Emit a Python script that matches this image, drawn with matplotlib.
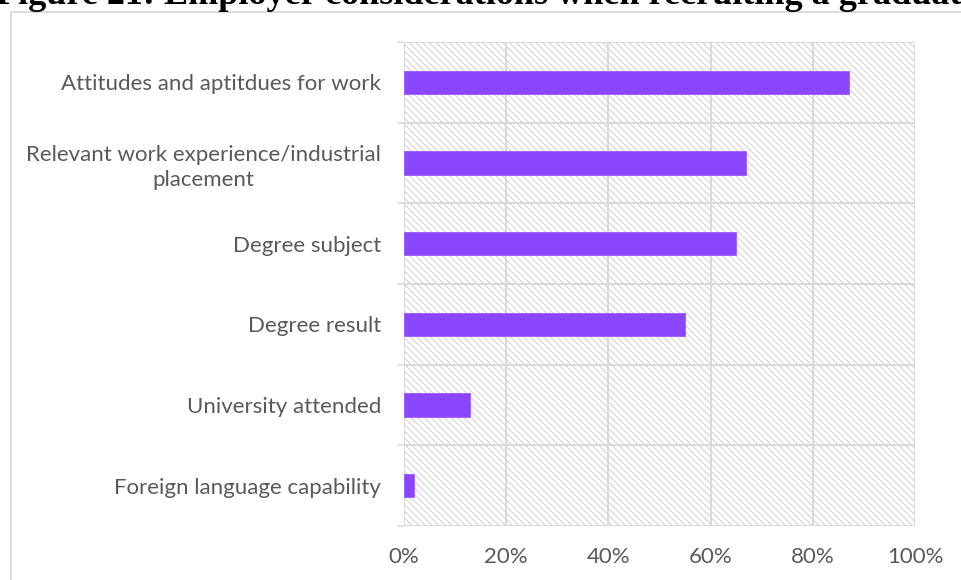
import matplotlib
matplotlib.use("Agg")
import matplotlib.pyplot as plt
from matplotlib.patches import Rectangle
from matplotlib.ticker import PercentFormatter

# survey answers, share of employers (top to bottom)
considerations = [
    "Attitudes and aptitdues for work",
    "Relevant work experience/industrial\nplacement",
    "Degree subject",
    "Degree result",
    "University attended",
    "Foreign language capability",
]
shares = [0.87, 0.67, 0.65, 0.55, 0.13, 0.02]
x_ticks = [0, 0.2, 0.4, 0.6, 0.8, 1.0]

title = "Figure 21: Employer considerations when recruiting a graduate"

bar_color = "#8B47FF"
grid_color = "#d9d9d9"
hatch_color = "#d4d4d4"
text_color = "#595959"

plt.rcParams["font.family"] = ["Lato", "DejaVu Sans"]
plt.rcParams["hatch.linewidth"] = 0.8

fig = plt.figure(figsize=(9.61, 5.80), dpi=100)
fig.patch.set_facecolor("white")

# outer chart frame (runs off the right and bottom edges)
fig.add_artist(Rectangle((11 / 961, -0.05), 1.0, 1 - 12 / 580 + 0.05,
                         transform=fig.transFigure, fill=False,
                         edgecolor=grid_color, linewidth=1.3))

# document caption above the chart, only its lower part is visible
fig.text(-4 / 961, 1 - 4 / 580, title, family="Liberation Serif",
         weight="bold", fontsize=26, va="baseline", ha="left", color="black")

ax = fig.add_axes([404 / 961, 1 - 526 / 580, 511 / 961, 484 / 580])
ax.set_facecolor("white")

# hatched plot area
ax.add_patch(Rectangle((0, 0), 1, 1, transform=ax.transAxes, fill=False,
                       hatch="\\\\\\\\\\", edgecolor=hatch_color,
                       linewidth=0, zorder=0))

pos = list(range(len(considerations)))
ax.barh(pos, shares, height=0.29, color=bar_color, edgecolor="#9a5cff",
        linewidth=0.6, zorder=3)

ax.set_xlim(0, 1)
ax.set_ylim(len(considerations) - 0.5, -0.5)

ax.set_xticks(x_ticks)
ax.xaxis.set_major_formatter(PercentFormatter(1.0, decimals=0))
ax.set_yticks(pos)
ax.set_yticklabels(considerations, multialignment="center", linespacing=1.3)
ax.set_yticks([p - 0.5 for p in pos] + [len(pos) - 0.5], minor=True)

ax.tick_params(axis="x", length=0, pad=15, labelsize=16, labelcolor=text_color)
ax.tick_params(axis="y", which="major", length=0, pad=16.5, labelsize=16,
               labelcolor=text_color)
ax.tick_params(axis="y", which="minor", length=5, width=1.1, color=grid_color)

ax.grid(axis="x", which="major", color=grid_color, linewidth=1.4, zorder=1)
ax.grid(axis="y", which="minor", color=grid_color, linewidth=1.4, zorder=1)
ax.set_axisbelow(True)
for s in ax.spines.values():
    s.set_visible(False)

fig.savefig("out.png", dpi=100, facecolor="white")
